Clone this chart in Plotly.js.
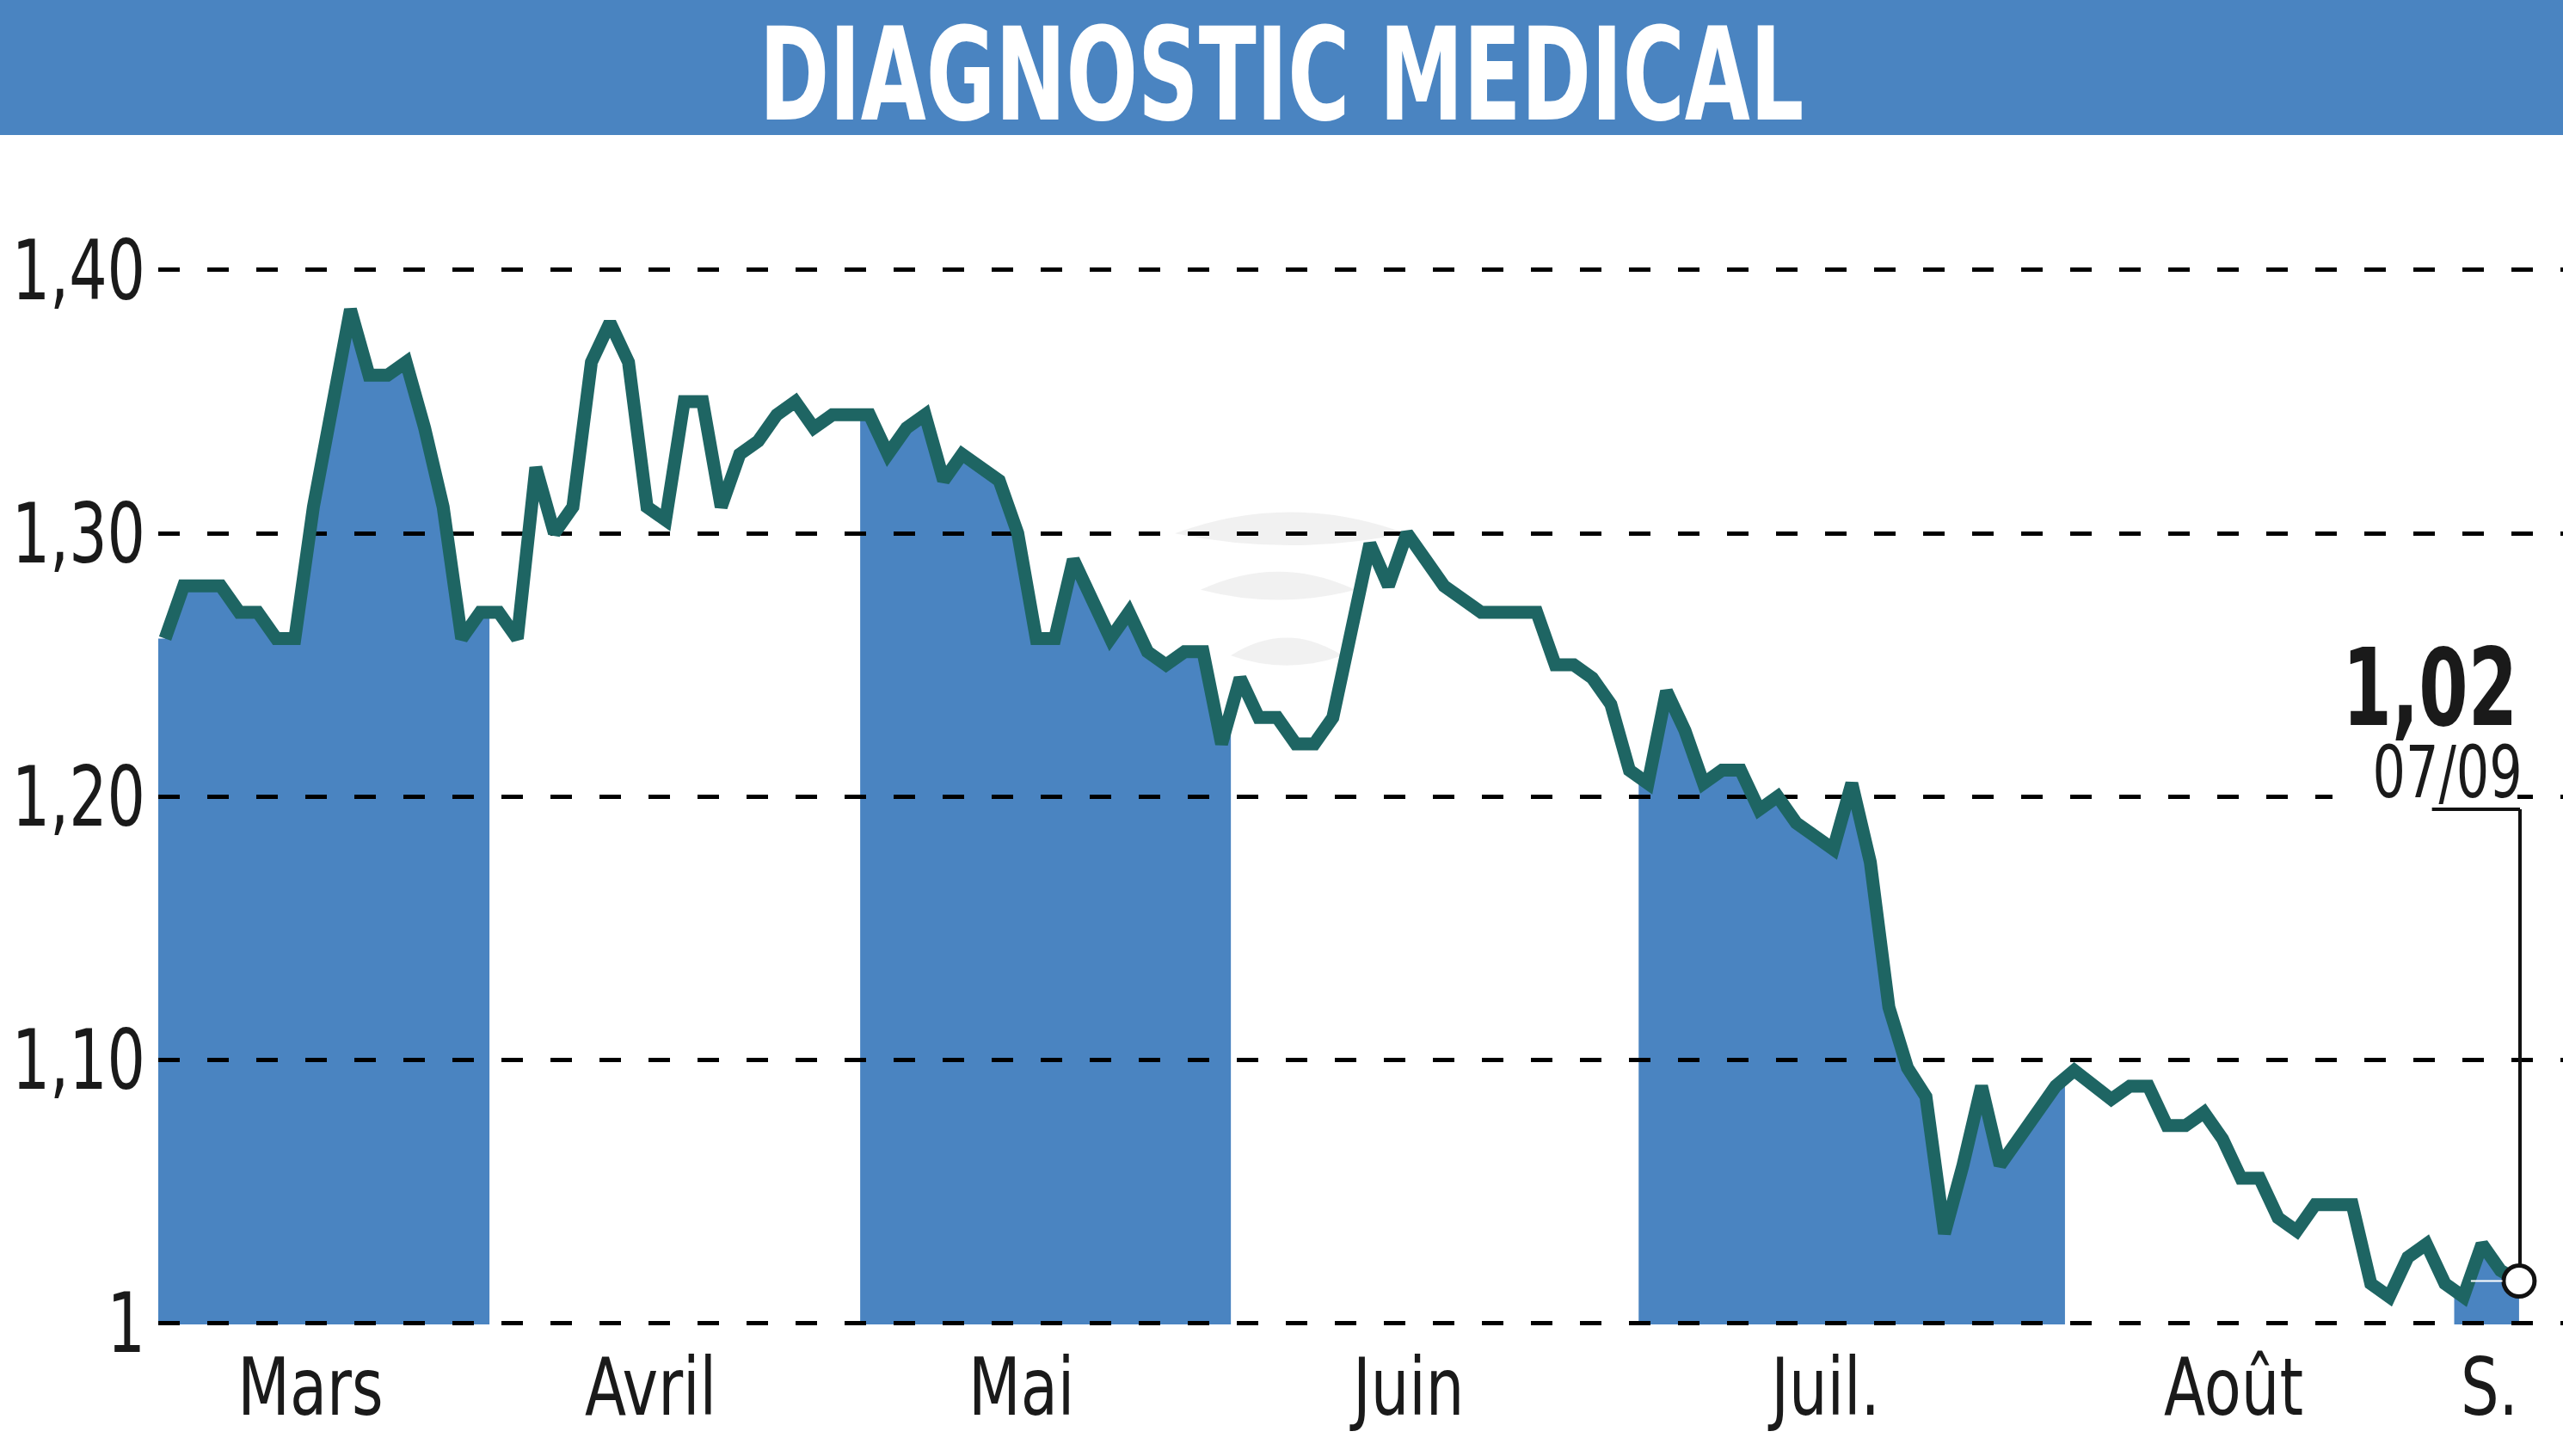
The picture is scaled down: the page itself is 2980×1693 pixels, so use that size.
<!DOCTYPE html>
<html>
<head>
<meta charset="utf-8">
<script src="https://cdn.plot.ly/plotly-3.0.1.min.js"></script>
<style>
html,body{margin:0;padding:0;background:#fff;}
#chart{width:2980px;height:1693px;}
</style>
</head>
<body>
<div id="chart"></div>
<script>
// ---- data ----
const titleText = 'DIAGNOSTIC MEDICAL';
const months = ['Mars', 'Avril', 'Mai', 'Juin', 'Juil.', 'Août', 'S.'];
const monthCounts = [18, 20, 20, 22, 23, 21, 4];
const prices = [
  // Mars
  1.26, 1.28, 1.28, 1.28, 1.27, 1.27, 1.26, 1.26, 1.31, 1.35, 1.385, 1.36, 1.36, 1.365, 1.34, 1.31, 1.26, 1.27,
  // Avril
  1.27, 1.26, 1.325, 1.30, 1.31, 1.365, 1.38, 1.365, 1.31, 1.305, 1.35, 1.35, 1.31, 1.33, 1.335, 1.345, 1.35, 1.34, 1.345, 1.345,
  // Mai
  1.345, 1.33, 1.34, 1.345, 1.32, 1.33, 1.325, 1.32, 1.30, 1.26, 1.26, 1.29, 1.275, 1.26, 1.27, 1.255, 1.25, 1.255, 1.255, 1.22,
  // Juin
  1.245, 1.23, 1.23, 1.22, 1.22, 1.23, 1.263, 1.296, 1.28, 1.30, 1.29, 1.28, 1.275, 1.27, 1.27, 1.27, 1.27, 1.25, 1.25, 1.245, 1.235, 1.21,
  // Juillet
  1.205, 1.24, 1.225, 1.205, 1.21, 1.21, 1.195, 1.20, 1.19, 1.185, 1.18, 1.205, 1.175, 1.12, 1.097, 1.086, 1.034, 1.06, 1.09, 1.06, 1.07, 1.08, 1.09,
  // Août
  1.096, 1.09, 1.085, 1.09, 1.09, 1.075, 1.075, 1.08, 1.07, 1.055, 1.055, 1.04, 1.035, 1.045, 1.045, 1.045, 1.015, 1.01, 1.025, 1.03, 1.015,
  // Septembre
  1.01, 1.03, 1.02, 1.016
];
const yTickVals = [1, 1.1, 1.2, 1.3, 1.4];
const yTickText = ['1', '1,10', '1,20', '1,30', '1,40'];
const lastLabel = '1,02';
const lastDate = '07/09';

// ---- styling ----
const BLUE = '#4a84c1';
const TEAL = '#1e6563';
const INK = '#1a1a1a';
const FONT = '"DejaVu Sans Condensed", "DejaVu Sans", sans-serif';

const W = 2980, H = 1693;
const M = {l: 184, r: 0, t: 200, b: 153};
const plotW = W - M.l - M.r, plotH = H - M.t - M.b;
const yRange = [0.9995, 1.4372];
const xRange = [-0.37, 129.37];

const xs = prices.map((_, i) => i);
const lastIdx = prices.length - 1;
const lastVal = prices[lastIdx];

// month segments
const segs = [];
let start = 0;
monthCounts.forEach((c, k) => { segs.push({name: months[k], s: start, e: start + c - 1}); start += c; });

// alternate months shaded under the curve, bounded half-way between sessions
const traces = [];
segs.forEach((sg, k) => {
  if (k % 2 !== 0) return;
  const fx = [], fy = [];
  const leftV = sg.s > 0 ? (prices[sg.s - 1] + prices[sg.s]) / 2 : prices[sg.s];
  fx.push(sg.s - 0.5); fy.push(leftV);
  for (let i = sg.s; i <= sg.e; i++) { fx.push(i); fy.push(prices[i]); }
  if (sg.e < lastIdx) { fx.push(sg.e + 0.5); fy.push((prices[sg.e] + prices[sg.e + 1]) / 2); }
  traces.push({x: fx, y: fy, xaxis: 'x', yaxis: 'y', type: 'scatter', mode: 'lines',
    line: {width: 0, color: BLUE}, fill: 'tozeroy', fillcolor: BLUE, hoverinfo: 'skip', showlegend: false});
});

// price line on the second (same-domain) subplot so the grid sits between fill and line
traces.push({x: xs, y: prices, xaxis: 'x2', yaxis: 'y2', type: 'scatter', mode: 'lines',
  line: {color: TEAL, width: 15}, hoverinfo: 'skip', showlegend: false});
traces.push({x: [lastIdx], y: [lastVal], xaxis: 'x2', yaxis: 'y2', type: 'scatter', mode: 'markers',
  marker: {size: 36, color: '#ffffff', line: {color: '#111111', width: 5}}, cliponaxis: false,
  hoverinfo: 'skip', showlegend: false});

// month label positions: month centre with a small per-label offset (as in the original)
const tickShift = [-0.66, -1.3, -1.3, -1.4, -1.4, -1.4, -0.1];
const tickVals = segs.map((sg, k) => (sg.s + sg.e) / 2 + tickShift[k]);

const px2x = px => (px - M.l) / plotW;
const px2y = py => 1 - (py - M.t) / plotH;
const v2paper = v => (v - yRange[0]) / (yRange[1] - yRange[0]);

function lens(x0, x1, y0, y1) {
  const a = px2x(x0), b = px2x(x1), c = px2x((x0 + x1) / 2);
  const mid = px2y(y0 + (y1 - y0) * 0.55), top = px2y(y0 - (y1 - y0) * 0.35), bot = px2y(y1 + (y1 - y0) * 0.05);
  return `M ${a} ${mid} Q ${c} ${top} ${b} ${mid} Q ${c} ${bot} ${a} ${mid} Z`;
}

const shapes = [
  // header band
  {type: 'rect', xref: 'paper', yref: 'paper', x0: -0.1, x1: 1.05, y0: px2y(157), y1: px2y(-20),
    fillcolor: BLUE, line: {width: 0}, layer: 'above'},
  // faint watermark
  {type: 'path', xref: 'paper', yref: 'paper', path: lens(1366, 1634, 590, 645), fillcolor: '#e6e6e6', opacity: 0.55, line: {width: 0}, layer: 'below'},
  {type: 'path', xref: 'paper', yref: 'paper', path: lens(1396, 1576, 660, 707), fillcolor: '#e6e6e6', opacity: 0.55, line: {width: 0}, layer: 'below'},
  {type: 'path', xref: 'paper', yref: 'paper', path: lens(1431, 1561, 737, 783), fillcolor: '#e6e6e6', opacity: 0.55, line: {width: 0}, layer: 'below'},
  // white patch behind the date label (hides the grid there)
  {type: 'rect', xref: 'paper', yref: 'paper', x0: px2x(2712), x1: px2x(2927), y0: px2y(935), y1: px2y(915),
    fillcolor: '#ffffff', line: {width: 0}, layer: 'above'},
  // leader for the last value
  {type: 'line', xref: 'x2', yref: 'paper', x0: lastIdx - 4.7, x1: lastIdx + 0.05, y0: px2y(941), y1: px2y(941),
    line: {color: '#111111', width: 4}, layer: 'above'},
  {type: 'line', xref: 'x2', yref: 'paper', x0: lastIdx + 0.05, x1: lastIdx + 0.05, y0: px2y(941), y1: v2paper(lastVal) + 0.014,
    line: {color: '#111111', width: 4}, layer: 'above'},
  {type: 'line', xref: 'x2', yref: 'y2', x0: lastIdx - 2.6, x1: lastIdx - 0.9, y0: lastVal, y1: lastVal,
    line: {color: '#ffffff', width: 2}, layer: 'above'}
];

const annotations = [
  {xref: 'x2', yref: 'paper', x: lastIdx, y: px2y(800), xanchor: 'right', yanchor: 'middle', showarrow: false,
    text: '<b>' + lastLabel + '</b>', font: {family: FONT, size: 124, color: INK}, xshift: 0},
  {xref: 'x2', yref: 'paper', x: lastIdx, y: px2y(898), xanchor: 'right', yanchor: 'middle', showarrow: false,
    text: lastDate, font: {family: FONT, size: 84, color: INK}, xshift: 6}
];

const layout = {
  width: W, height: H,
  margin: M,
  paper_bgcolor: '#ffffff', plot_bgcolor: 'rgba(0,0,0,0)',
  showlegend: false,
  title: {text: '<b>' + titleText + '</b>', x: 0.5, xanchor: 'center', xref: 'container', y: 0.949, yanchor: 'middle', yref: 'container',
    font: {family: FONT, size: 150, color: '#ffffff'}},
  xaxis: {domain: [0, 1], range: xRange, visible: false, fixedrange: true},
  yaxis: {domain: [0, 1], range: yRange, visible: false, fixedrange: true},
  xaxis2: {domain: [0, 1], anchor: 'y2', range: xRange, showgrid: false, zeroline: false, showline: false,
    ticks: '', tickvals: tickVals, ticktext: months, tickfont: {family: FONT, size: 92, color: INK}, ticklabelstandoff: 12},
  yaxis2: {domain: [0, 1], anchor: 'x2', range: yRange, showgrid: true, gridcolor: '#000000', gridwidth: 5,
    griddash: '25px,32px', zeroline: false, showline: false, ticks: '', tickvals: yTickVals, ticktext: yTickText,
    tickfont: {family: FONT, size: 97, color: INK}, ticklabelstandoff: 14},
  shapes: shapes,
  annotations: annotations
};

// narrow the lettering horizontally (the original uses a condensed face)
function squeeze(el, s, anchor) {
  const bb = el.getBBox();
  const ax = anchor === 'end' ? bb.x + bb.width : anchor === 'start' ? bb.x : bb.x + bb.width / 2;
  const t = el.getAttribute('transform') || '';
  el.setAttribute('transform', t + ` translate(${ax},0) scale(${s},1) translate(${-ax},0)`);
}

Plotly.newPlot('chart', traces, layout, {staticPlot: true, displayModeBar: false}).then(gd => {
  gd.querySelectorAll('text.gtitle').forEach(el => squeeze(el, 0.728, 'middle'));
  gd.querySelectorAll('g.y2tick text').forEach(el => squeeze(el, 0.80, 'end'));
  gd.querySelectorAll('g.x2tick text').forEach(el => squeeze(el, 0.85, 'middle'));
  const ann = gd.querySelectorAll('text.annotation-text');
  if (ann[0]) squeeze(ann[0], 0.74, 'end');
  if (ann[1]) squeeze(ann[1], 0.80, 'end');
});
</script>
</body>
</html>
